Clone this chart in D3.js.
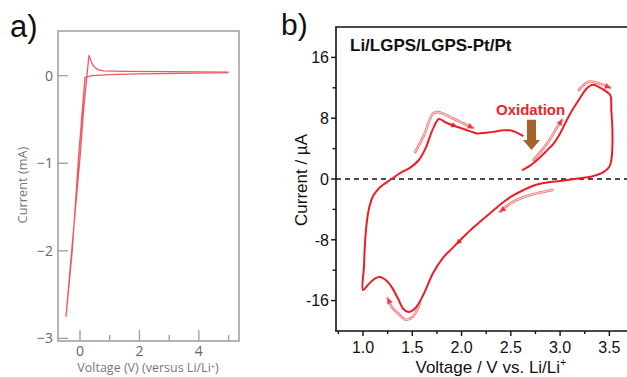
<!DOCTYPE html>
<html><head><meta charset="utf-8">
<script src="https://cdn.jsdelivr.net/npm/d3@7"></script>
<style>html,body{margin:0;padding:0;background:#fff;}svg{display:block;}</style>
</head><body>
<svg id="c" width="627" height="377"></svg>
<script>
// ---------- Panel a data ----------
const aVolt = [5.0, 4.0, 2.0, 1.0, 0.4, 0.17, 0.10, -0.05, -0.26, -0.47, -0.28, 0.0, 0.12, 0.22, 0.30, 0.34, 0.40, 0.48, 0.60, 0.80, 1.5, 3.0, 5.0];
const aCurr = [0.035, 0.03, 0.02, 0.012, 0.0, -0.02, -0.3, -0.94, -2.0, -2.75, -2.0, -0.94, -0.4, -0.05, 0.23, 0.2, 0.14, 0.1, 0.07, 0.055, 0.05, 0.045, 0.04];
const aXTicksMajor = [0, 2, 4];
const aXTicksMinor = [1, 3, 5];
const aYTicks = [0, -1, -2, -3];

// ---------- Panel b data ----------
const bVolt = [2.62,2.70,2.80,2.87,2.93,3.00,3.07,3.13,3.20,3.27,3.33,3.41,3.47,3.51,3.52,3.53,3.53,3.52,3.50,3.44,3.31,3.20,3.10,2.90,2.75,2.63,2.52,2.45,2.39,2.29,2.19,2.10,1.99,1.90,1.81,1.71,1.61,1.53,1.46,1.41,1.35,1.29,1.24,1.17,1.12,1.06,1.00,1.01,1.02,1.04,1.07,1.10,1.15,1.20,1.29,1.38,1.48,1.56,1.63,1.71,1.77,1.83,1.90,1.97,2.06,2.16,2.24,2.32,2.42,2.49,2.56,2.62];
const bCurr = [1.2,1.8,2.9,3.8,4.6,6.0,7.8,9.2,10.6,11.9,12.4,12.0,11.5,11.0,9.0,6.8,4.0,2.5,1.6,0.9,0.3,0.1,-0.1,-0.4,-0.8,-1.45,-2.2,-2.8,-3.4,-4.5,-5.6,-6.6,-8.0,-9.2,-10.4,-12.4,-15.3,-17.0,-17.5,-17.1,-15.6,-14.2,-13.4,-12.9,-13.1,-13.8,-14.6,-11.5,-8.5,-5.5,-3.4,-2.3,-1.4,-0.8,0.0,0.8,1.5,2.4,3.9,6.6,7.9,7.5,7.1,6.8,6.4,6.0,6.1,6.2,6.4,6.4,6.1,5.7];
const bXTicks = [1.0, 1.5, 2.0, 2.5, 3.0, 3.5];
const bXMinor = [0.75, 1.25, 1.75, 2.25, 2.75, 3.25];
const bYTicks = [16, 8, 0, -8, -16];
const bYMinor = [12, 4, -4, -12];

// guide arrows (annotation paths, in data units)
const guide1V = [1.53, 1.62, 1.71, 1.76, 1.91, 2.02, 2.12];
const guide1I = [3.55, 5.8, 8.6, 8.8, 8.0, 7.3, 6.7];
const guide2V = [2.73, 2.87, 2.97, 3.02];
const guide2I = [2.5, 4.7, 6.8, 7.8];
const guide3V = [3.19, 3.29, 3.39, 3.51];
const guide3I = [11.7, 12.8, 12.6, 12.0];
const guide4V = [2.92, 2.70, 2.52, 2.39];
const guide4I = [-1.45, -2.1, -3.0, -4.3];
const guide5V = [1.58, 1.50, 1.43, 1.35, 1.29, 1.25];
const guide5I = [-16.3, -18.2, -18.5, -17.6, -16.8, -15.7];
// small arrowheads on the main curve: [position V, I, direction V, I]
const markV = [1.87, 1.99];
const markI = [7.25, -8.0];
const markDV = [1.95, 1.95];
const markDI = [6.9, -8.6];
// oxidation arrow: top and tip (data units)
const oxArrowV = 2.71;
const oxArrowTop = 7.8;
const oxArrowTip = 3.8;

const svg = d3.select("#c");

// ================= Panel a =================
const ax = d3.scaleLinear().domain([-0.74, 5.35]).range([58, 239]);
const ay = d3.scaleLinear().domain([-3.03, 0.51]).range([341, 31]);
const ga = svg.append("g");
const grey = "#a3a3a3", tgrey = "#666";
ga.append("rect").attr("x", 58).attr("y", 31).attr("width", 239-58).attr("height", 341-31)
  .attr("fill", "none").attr("stroke", grey).attr("stroke-width", 1.6);
aYTicks.forEach(t => {
  ga.append("line").attr("x1", 58).attr("x2", 68).attr("y1", ay(t)).attr("y2", ay(t)).attr("stroke", grey).attr("stroke-width", 1.4);
  ga.append("text").attr("x", 53).attr("y", ay(t) + 5).attr("text-anchor", "end")
    .attr("font-family", "Open Sans").attr("font-size", 14).attr("fill", tgrey).text(t === 0 ? "0" : "\u2212" + Math.abs(t));
});
aXTicksMajor.forEach(t => {
  ga.append("line").attr("x1", ax(t)).attr("x2", ax(t)).attr("y1", 341).attr("y2", 330).attr("stroke", grey).attr("stroke-width", 1.4);
  ga.append("text").attr("x", ax(t)).attr("y", 356).attr("text-anchor", "middle")
    .attr("font-family", "Open Sans").attr("font-size", 14).attr("fill", tgrey).text(t);
});
aXTicksMinor.forEach(t => {
  ga.append("line").attr("x1", ax(t)).attr("x2", ax(t)).attr("y1", 341).attr("y2", 335).attr("stroke", grey).attr("stroke-width", 1.4);
});
ga.append("text").attr("x", 148).attr("y", 372).attr("text-anchor", "middle")
  .attr("font-family", "Open Sans").attr("font-size", 12.5).attr("fill", "#777")
  .text("Voltage (V) (versus Li/Li\u207A)");
ga.append("text").attr("transform", "translate(27,185) rotate(-90)").attr("text-anchor", "middle")
  .attr("font-family", "Open Sans").attr("font-size", 12.8).attr("fill", "#777").text("Current (mA)");
const aPts = aVolt.map((v, i) => [ax(v), ay(aCurr[i])]);
ga.append("path").attr("d", d3.line().curve(d3.curveLinear)(aPts))
  .attr("fill", "none").attr("stroke", "#f0454f").attr("stroke-width", 1.3).attr("stroke-linejoin", "round").attr("opacity", 0.9);
svg.append("text").attr("x", 10).attr("y", 37).attr("font-family", "Liberation Sans").attr("font-size", 31).attr("fill", "#111").text("a)");

// ================= Panel b =================
const bx = d3.scaleLinear().domain([0.726, 3.75]).range([336, 634]);
const by = d3.scaleLinear().domain([-20, 20]).range([331, 27]);
const gb = svg.append("g");
const font = "Liberation Sans";
gb.append("line").attr("x1", 336).attr("x2", 627).attr("y1", by(0)).attr("y2", by(0))
  .attr("stroke", "#111").attr("stroke-width", 1.6).attr("stroke-dasharray", "5,4");
gb.append("line").attr("x1", 336).attr("x2", 336).attr("y1", 27).attr("y2", 331).attr("stroke", "#111").attr("stroke-width", 1.6);
gb.append("line").attr("x1", 335.2).attr("x2", 627).attr("y1", 331).attr("y2", 331).attr("stroke", "#111").attr("stroke-width", 1.6);
gb.append("line").attr("x1", 335.2).attr("x2", 627).attr("y1", 27).attr("y2", 27).attr("stroke", "#111").attr("stroke-width", 1.6);
bYTicks.forEach(t => {
  gb.append("line").attr("x1", 331).attr("x2", 336).attr("y1", by(t)).attr("y2", by(t)).attr("stroke", "#111").attr("stroke-width", 1.4);
  gb.append("text").attr("x", 329).attr("y", by(t) + 5.8).attr("text-anchor", "end")
    .attr("font-family", font).attr("font-size", 16).attr("fill", "#111").text(t);
});
bYMinor.forEach(t => {
  gb.append("line").attr("x1", 332.5).attr("x2", 336).attr("y1", by(t)).attr("y2", by(t)).attr("stroke", "#111").attr("stroke-width", 1.4);
});
bXTicks.forEach(t => {
  gb.append("line").attr("x1", bx(t)).attr("x2", bx(t)).attr("y1", 331).attr("y2", 336).attr("stroke", "#111").attr("stroke-width", 1.4);
  gb.append("text").attr("x", bx(t)).attr("y", 353).attr("text-anchor", "middle")
    .attr("font-family", font).attr("font-size", 16).attr("fill", "#111").text(t.toFixed(1));
});
bXMinor.forEach(t => {
  gb.append("line").attr("x1", bx(t)).attr("x2", bx(t)).attr("y1", 331).attr("y2", 334).attr("stroke", "#111").attr("stroke-width", 1.4);
});
const xl = gb.append("text").attr("x", 491).attr("y", 373).attr("text-anchor", "middle")
  .attr("font-family", font).attr("font-size", 17).attr("fill", "#111");
xl.append("tspan").text("Voltage / V vs. Li/Li");
xl.append("tspan").attr("font-size", 11).attr("dy", -7).text("+");
gb.append("text").attr("transform", "translate(307,180) rotate(-90)").attr("text-anchor", "middle")
  .attr("font-family", font).attr("font-size", 17).attr("fill", "#111").text("Current / \u00B5A");
gb.append("text").attr("x", 350).attr("y", 51).attr("font-family", font).attr("font-size", 17)
  .attr("font-weight", "bold").attr("fill", "#111").text("Li/LGPS/LGPS-Pt/Pt");
svg.append("text").attr("x", 281).attr("y", 35).attr("font-family", font).attr("font-size", 30).attr("fill", "#111").text("b)");

const red = "#ee1c25";
function arrowHead(g, p, q, size, color) {
  const ang = Math.atan2(q[1] - p[1], q[0] - p[0]);
  const w = size * 0.55;
  const pts = [
    [q[0], q[1]],
    [q[0] - size * Math.cos(ang) + w * Math.sin(ang), q[1] - size * Math.sin(ang) - w * Math.cos(ang)],
    [q[0] - size * Math.cos(ang) - w * Math.sin(ang), q[1] - size * Math.sin(ang) + w * Math.cos(ang)]
  ];
  g.append("polygon").attr("points", pts.map(d => d.join(",")).join(" ")).attr("fill", color);
}
const guides = [[guide1V, guide1I], [guide2V, guide2I], [guide3V, guide3I], [guide4V, guide4I], [guide5V, guide5I]];
guides.forEach(([gv, gi]) => {
  const pts = gv.map((v, i) => [bx(v), by(gi[i])]);
  const d = d3.line().curve(d3.curveCatmullRom.alpha(0.5))(pts);
  gb.append("path").attr("d", d).attr("fill", "none").attr("stroke", "#f47479").attr("stroke-width", 2.6).attr("stroke-linecap", "round");
  gb.append("path").attr("d", d).attr("fill", "none").attr("stroke", "#fde6e6").attr("stroke-width", 0.9).attr("stroke-linecap", "round");
  const n = pts.length;
  arrowHead(gb, pts[n - 2], pts[n - 1], 5.5, "#f0373d");
});

const bPts = bVolt.map((v, i) => [bx(v), by(bCurr[i])]);
gb.append("path").attr("d", d3.line().curve(d3.curveCatmullRom.alpha(0.5))(bPts))
  .attr("fill", "none").attr("stroke", red).attr("stroke-width", 2).attr("stroke-linejoin", "round").attr("stroke-linecap", "round");
markV.forEach((v, i) => {
  arrowHead(gb, [bx(v), by(markI[i])], [bx(markDV[i]), by(markDI[i])], 5, red);
});

gb.append("text").attr("x", 496).attr("y", 115).attr("font-family", font).attr("font-size", 15)
  .attr("font-weight", "bold").attr("fill", "#e8262d").text("Oxidation");
const ox = bx(oxArrowV), oyTop = by(oxArrowTop), oyTip = by(oxArrowTip);
const headH = 10;
gb.append("polygon").attr("points", [
  [ox - 4.5, oyTop], [ox + 4.5, oyTop], [ox + 4.5, oyTip - headH], [ox + 8.5, oyTip - headH],
  [ox, oyTip], [ox - 8.5, oyTip - headH], [ox - 4.5, oyTip - headH]
].map(d => d.join(",")).join(" ")).attr("fill", "#a5622b");
</script>
</body></html>
